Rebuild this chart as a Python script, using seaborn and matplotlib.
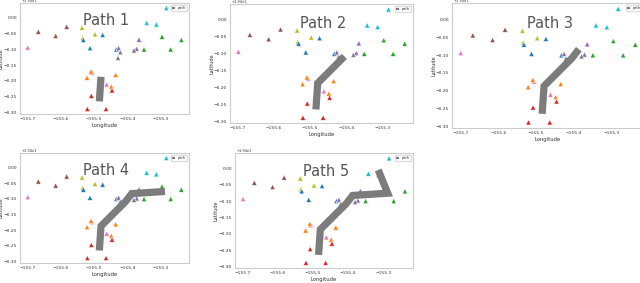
import matplotlib
matplotlib.use("Agg")
import matplotlib.pyplot as plt
import seaborn as sns
import pandas as pd
from matplotlib.ticker import ScalarFormatter

# ---- data -------------------------------------------------------------
station_group = [9, 9, 9,
                 5, 5, 5,
                 8, 8, 8,
                 0, 0, 0, 0,
                 4, 4, 4,
                 7, 7, 7,
                 2, 2, 2, 2,
                 6, 6, 6,
                 1, 1, 1, 1,
                 3, 3, 3, 3]
station_lon = [-155.283, -155.342, -155.313,
               -155.667, -155.582, -155.615,
               -155.536, -155.497, -155.534,
               -155.532, -155.474, -155.512, -155.433,
               -155.426, -155.365, -155.372,
               -155.421, -155.428, -155.380,
               -155.296, -155.238, -155.350, -155.270,
               -155.699, -155.505, -155.462,
               -155.509, -155.521, -155.435, -155.448,
               -155.446, -155.508, -155.520, -155.464]
station_lat = [19.431, 19.384, 19.379,
               19.356, 19.372, 19.343,
               19.369, 19.348, 19.336,
               19.330, 19.346, 19.304, 19.300,
               19.304, 19.331, 19.302,
               19.291, 19.273, 19.297,
               19.340, 19.330, 19.300, 19.300,
               19.306, 19.226, 19.189,
               19.230, 19.210, 19.219, 19.182,
               19.170, 19.153, 19.111, 19.111]

path_lon = [-155.484, -155.479, -155.405, -155.387, -155.287, -155.314]
path_lat = [19.135, 19.213, 19.292, 19.317, 19.324, 19.395]
path_len = [2, 3, 4, 5, 6]          # number of waypoints shown in each panel
panel_titles = ["Path 1", "Path 2", "Path 3", "Path 4", "Path 5"]

stations = pd.DataFrame({"lon": station_lon, "lat": station_lat,
                         "group": station_group})
palette = dict(zip(range(10), sns.color_palette("tab10", 10)))

# ---- figure -------------------------------------------------------------
sns.set_style("white")
W, H = 640, 283
fig = plt.figure(figsize=(6.4, 2.83), dpi=100)

boxes = [(20, 3, 189, 114), (230, 4, 413, 123), (452, 3, 644, 128),
         (20, 153, 189, 263), (235, 153, 413, 268)]

for i, (l, t, r, b) in enumerate(boxes):
    ax = fig.add_axes([l / W, (H - b) / H, (r - l) / W, (b - t) / H])
    sns.scatterplot(data=stations, x="lon", y="lat", hue="group",
                    palette=palette, marker="^", s=15, linewidth=0.4,
                    edgecolor="white", legend=False, ax=ax, zorder=3)
    n = path_len[i]
    sns.lineplot(x=path_lon[:n], y=path_lat[:n], sort=False, color="#7c7c7c",
                 linewidth=5.2, ax=ax, zorder=4, label="path",
                 solid_capstyle="butt", solid_joinstyle="miter")
    leg = ax.legend(loc="upper right", fontsize=2.5, handlelength=1.0,
                    borderpad=0.3, frameon=True, framealpha=1,
                    edgecolor="#dddddd")
    for ln in leg.get_lines():
        ln.set_linewidth(1.5)
    ax.set_xlabel("Longitude", fontsize=3.8, labelpad=1.2, color="#333333")
    ax.set_ylabel("Latitude", fontsize=3.6, color="#333333")
    # place the y label ~17 px left of the axes so it stays inside the image
    ax.yaxis.set_label_coords(-16.0 / (r - l), 0.5)
    ax.tick_params(axis="both", labelsize=3.2, length=1.5, width=0.4,
                   pad=0.6, colors="#333333")
    ax.set_xticks([-155.7, -155.6, -155.5, -155.4, -155.3])
    fmt = ScalarFormatter(useOffset=19.4)
    ax.yaxis.set_major_formatter(fmt)
    off = ax.yaxis.get_offset_text()
    off.set_fontsize(2.6)
    off.set_verticalalignment("top")
    off.set_x(0.01)
    for s in ax.spines.values():
        s.set_color("#cccccc")
        s.set_linewidth(0.8)
    ax.text(0.51, 0.84, panel_titles[i], transform=ax.transAxes,
            ha="center", va="center", fontsize=10.5, color="#555555",
            zorder=6)

fig.savefig("out.png", dpi=100)
